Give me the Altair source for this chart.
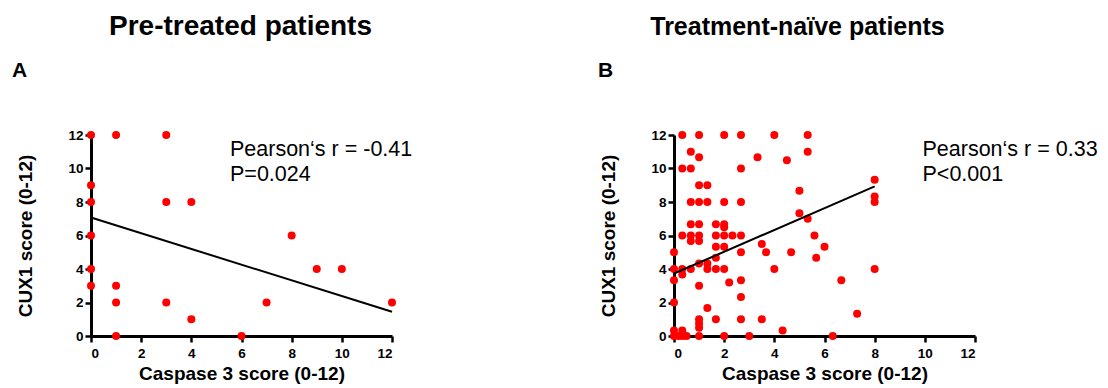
import altair as alt
import pandas as pd

FONT = "Liberation Sans"

# ---- Panel A: pre-treated patients ----
pre_caspase = [0, 1, 3, 0, 0, 3, 4, 0, 8, 0, 9, 10, 0, 1, 1, 3, 7, 12, 4, 1, 6]
pre_cux1 = [12, 12, 12, 9, 8, 8, 8, 6, 6, 4, 4, 4, 3, 3, 2, 2, 2, 2, 1, 0, 0]
pre_fit_x = [0, 12]
pre_fit_y = [7.07, 1.45]
pre_stats = ["Pearson\u2018s r = -0.41", "P=0.024"]

# ---- Panel B: treatment-naive patients ----
naive_caspase = [
    0.33, 1, 2, 2.67, 4, 5.33,
    0.67, 5.33,
    1, 3.33,
    4.5,
    0.33, 0.67, 2.67,
    8,
    1, 1.33,
    5,
    8,
    0.67, 1, 1.33, 2, 2.67, 8,
    5,
    5.33,
    0.67, 1, 1.67, 2,
    2,
    0.33, 0.67, 1, 1.67, 2, 2.33, 2.67, 5.6,
    0.67, 1,
    3.5,
    1.67, 2, 6,
    0, 2.67, 3.67, 4.67,
    1.67, 5.67,
    1, 1.33,
    0, 0.33, 0.67, 1.33, 1.67, 2, 4, 8,
    0.33,
    0, 2.67, 6.67,
    2.2,
    1,
    2.67,
    0,
    1.33,
    7.3,
    1, 1.67, 2.67, 3.5,
    1,
    1,
    0, 0.33, 4.33,
    0, 0.17, 0.33, 0.5, 1, 2, 3, 6.33,
]
naive_cux1 = [
    12, 12, 12, 12, 12, 12,
    11, 11,
    10.67, 10.67,
    10.5,
    10, 10, 10,
    9.33,
    9, 9,
    8.67,
    8.33,
    8, 8, 8, 8, 8, 8,
    7.33,
    7,
    6.67, 6.67, 6.67, 6.67,
    6.5,
    6, 6, 6, 6, 6, 6, 6, 6,
    5.67, 5.67,
    5.5,
    5.33, 5.33, 5.33,
    5, 5, 5, 5,
    4.67, 4.67,
    4.33, 4.33,
    4, 4, 4, 4, 4, 4, 4, 4,
    3.67,
    3.33, 3.33, 3.33,
    3.2,
    3,
    2.33,
    2,
    1.67,
    1.33,
    1, 1, 1, 1,
    0.75,
    0.5,
    0.33, 0.33, 0.33,
    0, 0, 0, 0, 0, 0, 0, 0,
]
naive_fit_x = [0, 8]
naive_fit_y = [3.73, 8.93]
naive_stats = ["Pearson\u2018s r = 0.33", "P<0.001"]

titles = ["Pre-treated patients", "Treatment-na\u00efve patients"]
letters = ["A", "B"]
x_title = "Caspase 3 score (0-12)"
y_title = "CUX1 score (0-12)"
tick_vals = [0, 2, 4, 6, 8, 10, 12]

W, H = 301, 201


def panel(xs, ys, fx, fy, stats, title, letter, title_x, title_size, letter_x, stats_x):
    pts = pd.DataFrame({"caspase": xs, "cux1": ys})
    fit = pd.DataFrame({"caspase": fx, "cux1": fy})
    xscale = alt.Scale(domain=[0, 12], nice=False)
    yscale = alt.Scale(domain=[0, 12], nice=False)
    xax = alt.Axis(values=tick_vals, title=x_title, labelPadding=4, titlePadding=5,
                   labelOverlap=False)
    yax = alt.Axis(values=tick_vals, title=y_title, labelPadding=2, titlePadding=32,
                   labelOverlap=False, labelSeparation=0)

    points = alt.Chart(pts).mark_circle(size=64, color="#FF0000", opacity=1).encode(
        x=alt.X("caspase:Q", scale=xscale, axis=xax),
        y=alt.Y("cux1:Q", scale=yscale, axis=yax),
    )
    line = alt.Chart(fit).mark_line(color="black", strokeWidth=2).encode(
        x=alt.X("caspase:Q", scale=xscale, axis=xax),
        y=alt.Y("cux1:Q", scale=yscale, axis=yax),
    )

    def label(txt, x, y, size, weight, align="left"):
        return alt.Chart(pd.DataFrame({"t": [txt]})).mark_text(
            font=FONT, fontSize=size, fontWeight=weight, color="black",
            align=align, baseline="alphabetic",
        ).encode(text="t:N", x=alt.value(x), y=alt.value(y))

    s1 = label(stats[0], stats_x, 21, 21.5, "normal")
    s2 = label(stats[1], stats_x, 46, 21.5, "normal")
    lt = label(letter, letter_x, -58, 21, "bold")
    tt = label(title, title_x, -100, title_size, "bold", align="center")

    return alt.layer(points, line, s1, s2, lt, tt).properties(width=W, height=H)


a = panel(pre_caspase, pre_cux1, pre_fit_x, pre_fit_y, pre_stats,
          titles[0], letters[0], 149.5, 28, -79, 139)
b = panel(naive_caspase, naive_cux1, naive_fit_x, naive_fit_y, naive_stats,
          titles[1], letters[1], 123.5, 25, -76, 248.5)

chart = alt.hconcat(a, b, spacing=282, bounds="flush").properties(
    padding={"left": 4, "top": 5, "right": 0, "bottom": 0}
).configure_view(stroke=None).configure_axis(
    grid=False, labelOverlap=False,
    domainColor="black", domainWidth=3,
    tickColor="black", tickWidth=2.5, tickSize=6,
    labelFont=FONT, labelFontSize=13.5, labelFontWeight="bold", labelColor="black",
    titleFont=FONT, titleFontSize=19, titleFontWeight="bold", titleColor="black",
)

chart.save("out.html", embed_options={"renderer": "svg", "actions": False})
